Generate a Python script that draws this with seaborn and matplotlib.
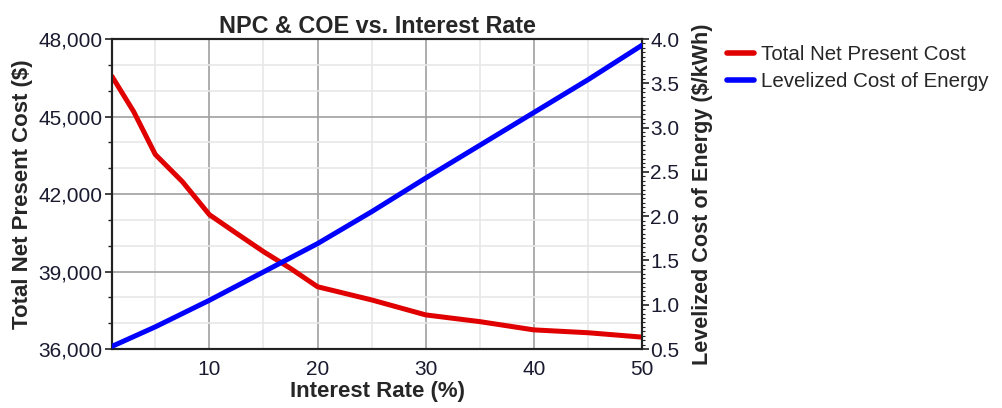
import matplotlib
matplotlib.use("Agg")
import matplotlib.pyplot as plt
from matplotlib.ticker import MultipleLocator, FuncFormatter
from matplotlib.lines import Line2D
import seaborn as sns
import pandas as pd

# Data
interest_rate = [1, 3, 5, 7.5, 10, 12.5, 15, 17.5, 20, 25, 30, 35, 40, 45, 50]
npc = [46550, 45190, 43530, 42480, 41200, 40480, 39770, 39120, 38410,
       37900, 37320, 37060, 36740, 36630, 36460]
coe_x = [1, 5, 10, 15, 20, 25, 30, 35, 40, 45, 50]
coe = [0.53, 0.75, 1.05, 1.37, 1.69, 2.05, 2.43, 2.80, 3.17, 3.54, 3.93]

sns.set_style("white")
plt.rcParams['font.family'] = ['Liberation Sans', 'DejaVu Sans']

df_npc = pd.DataFrame({"rate": interest_rate, "npc": npc})
df_coe = pd.DataFrame({"rate": coe_x, "coe": coe})

fig = plt.figure(figsize=(10.03, 4.08), dpi=100)
ax = fig.add_axes([0.1117, 0.1446, 0.5284, 0.7598])
ax2 = ax.twinx()

red = "#e00000"
blue = "#0000ff"
sns.lineplot(data=df_npc, x="rate", y="npc", ax=ax, color=red, linewidth=3.6, zorder=3)
sns.lineplot(data=df_coe, x="rate", y="coe", ax=ax2, color=blue, linewidth=3.6, zorder=3)

ax.set_xlim(1, 50)
ax.set_ylim(36000, 48000)
ax2.set_ylim(0.5, 4.0)

ax.xaxis.set_major_locator(MultipleLocator(10))
ax.xaxis.set_minor_locator(MultipleLocator(5))
ax.yaxis.set_major_locator(MultipleLocator(3000))
ax.yaxis.set_minor_locator(MultipleLocator(1000))
ax.yaxis.set_major_formatter(FuncFormatter(lambda v, p: f"{int(v):,}"))
ax2.yaxis.set_major_locator(MultipleLocator(0.5))
ax2.yaxis.set_minor_locator(MultipleLocator(0.05))
ax2.yaxis.set_major_formatter(FuncFormatter(lambda v, p: f"{v:.1f}"))

ax.grid(which="major", color="#a0a0a0", linewidth=1.2)
ax.grid(which="minor", color="#e8e8e8", linewidth=1.2)
ax.set_axisbelow(True)
ax2.grid(False)

for a in (ax, ax2):
    for s in a.spines.values():
        s.set_color("#222222")
        s.set_linewidth(1.5)

tick_color = "#1a1a30"
ax.tick_params(axis="both", which="major", direction="out", length=5, width=1.2,
               labelsize=15, colors="#222222", labelcolor=tick_color)
ax.tick_params(axis="x", which="major", pad=3)
ax.tick_params(axis="y", which="major", pad=2)
ax.tick_params(axis="both", which="minor", direction="out", length=3, width=1.0, colors="#222222")
ax2.tick_params(axis="y", which="major", direction="out", length=5, width=1.2,
                labelsize=15, colors="#222222", labelcolor=tick_color, pad=1)
ax2.tick_params(axis="y", which="minor", direction="out", length=2.5, width=0.8, colors="#222222")

ax.set_xlabel("Interest Rate (%)", fontsize=16, fontweight="bold", labelpad=1)
ax.set_ylabel("Total Net Present Cost ($)", fontsize=16, fontweight="bold", labelpad=4)
ax2.set_ylabel("Levelized Cost of Energy ($/kWh)", fontsize=15.6, fontweight="bold", labelpad=9)
ax.set_title("NPC & COE vs. Interest Rate", fontsize=16.8, fontweight="bold", pad=4)

handles = [Line2D([0], [0], color=red, linewidth=4),
           Line2D([0], [0], color=blue, linewidth=4)]
fig.legend(handles, ["Total Net Present Cost", "Levelized Cost of Energy"],
           loc="upper left", bbox_to_anchor=(0.717, 0.91), frameon=False,
           fontsize=14.8, handlelength=1.3, handletextpad=0.35, labelspacing=0.4,
           borderaxespad=0)

fig.savefig("out.png", dpi=100)
